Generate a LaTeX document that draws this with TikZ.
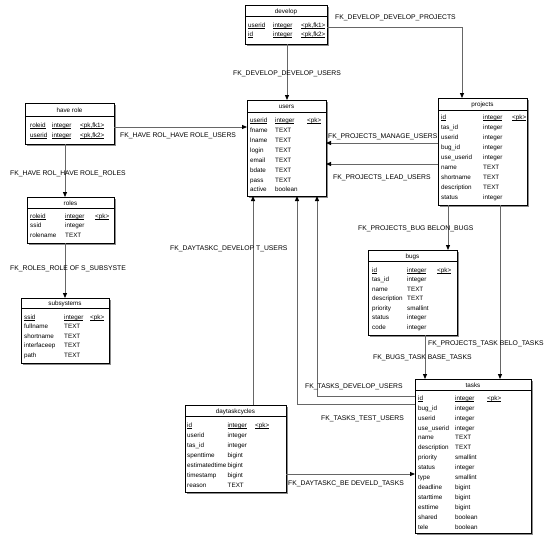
\documentclass[tikz,border=0pt]{standalone}
\usepackage{fontspec}
\setmainfont{Liberation Sans}
\usetikzlibrary{arrows.meta}
\tikzset{
 tbox/.style={draw=black, line width=0.6pt, fill=white, inner sep=0, outer sep=0, anchor=north west},
 shadowc/.style={fill=black!45},
 sepl/.style={draw=black, line width=0.5pt},
 ttitle/.style={inner sep=0, font=\fontsize{6.3}{7}\selectfont, text height=4.5pt, text depth=0pt},
 ftext/.style={ttitle, anchor=west},
 lbl/.style={inner sep=0, anchor=west, font=\fontsize{6.8}{7}\selectfont, text height=4.8pt, text depth=0pt},
 conn/.style={draw=black!60, line width=0.8pt, -{Triangle[length=5pt,width=4pt,color=black]}},
}
\newcommand\myul[1]{\setbox0\hbox{#1}\rlap{\rule[-1.1pt]{\wd0}{0.45pt}}\box0}
\newcommand\mktable[7]{%
  \fill[shadowc] (#2+1.5,#3+1.5) rectangle (#4+1.5,#5+1.5);
  \node[tbox, minimum width={(#4-#2)*1pt}, minimum height={(#5-#3)*1pt}] (#1) at (#2,#3) {};
  \draw[sepl] (#2,#6) -- (#4,#6);
  \node[ttitle] (#1-t) at ({(#2+#4)/2},{(#3+#6)/2+0.3}) {#7};
}
\newcommand\cols[3]{\def\cA{#1}\def\cB{#2}\def\cC{#3}}
\newcommand\fld[5]{%
  \node[ftext] (#1-#2a) at (\cA,#3) {#4};
  \node[ftext] (#1-#2b) at (\cB,#3) {#5};
}
\newcommand\kfld[6]{%
  \node[ftext] (#1-#2a) at (\cA,#3) {\myul{#4}};
  \node[ftext] (#1-#2b) at (\cB,#3) {\myul{#5}};
  \node[ftext] (#1-#2c) at (\cC,#3) {\myul{#6}};
}
\begin{document}
\begin{tikzpicture}[x=1pt,y=-1pt]
\fill[white] (0,0) rectangle (552,541);
\useasboundingbox (0,0) rectangle (552,541);

% develop
\mktable{develop}{245}{5}{327}{44}{16}{develop}
\cols{248}{273}{301}
\kfld{develop}{1}{25}{userid}{integer}{<pk,fk1>}
\kfld{develop}{2}{34.5}{id}{integer}{<pk,fk2>}

% have role
\mktable{haverole}{25}{103}{114}{144}{116}{have role}
\cols{30}{52}{80}
\kfld{haverole}{1}{125}{roleid}{integer}{<pk,fk1>}
\kfld{haverole}{2}{135}{userid}{integer}{<pk,fk2>}

% roles
\mktable{roles}{27}{197}{114}{243}{208}{roles}
\cols{30}{65}{95}
\kfld{roles}{1}{216}{roleid}{integer}{<pk>}
\fld{roles}{2}{225.5}{ssid}{integer}
\fld{roles}{3}{235}{rolename}{TEXT}

% subsystems
\mktable{subsystems}{21}{298}{109}{363}{308}{subsystems}
\cols{24}{64}{90}
\kfld{subsystems}{1}{317}{ssid}{integer}{<pk>}
\fld{subsystems}{2}{326.5}{fullname}{TEXT}
\fld{subsystems}{3}{336}{shortname}{TEXT}
\fld{subsystems}{4}{345.5}{interfaceep}{TEXT}
\fld{subsystems}{5}{355}{path}{TEXT}

% users
\mktable{users}{247}{100}{326}{196}{112}{users}
\cols{250}{275}{307}
\kfld{users}{1}{120}{userid}{integer}{<pk>}
\fld{users}{2}{130}{fname}{TEXT}
\fld{users}{3}{140}{lname}{TEXT}
\fld{users}{4}{150}{login}{TEXT}
\fld{users}{5}{160}{email}{TEXT}
\fld{users}{6}{170}{bdate}{TEXT}
\fld{users}{7}{180}{pass}{TEXT}
\fld{users}{8}{189}{active}{boolean}

% projects
\mktable{projects}{438}{98}{527}{205}{110}{projects}
\cols{441}{483}{512}
\kfld{projects}{1}{117}{id}{integer}{<pk>}
\fld{projects}{2}{127}{tas\_id}{integer}
\fld{projects}{3}{137}{userid}{integer}
\fld{projects}{4}{147}{bug\_id}{integer}
\fld{projects}{5}{157}{use\_userid}{integer}
\fld{projects}{6}{167}{name}{TEXT}
\fld{projects}{7}{177}{shortname}{TEXT}
\fld{projects}{8}{187}{description}{TEXT}
\fld{projects}{9}{197}{status}{integer}

% bugs
\mktable{bugs}{368}{250}{457}{335}{261}{bugs}
\cols{372}{407}{437}
\kfld{bugs}{1}{270}{id}{integer}{<pk>}
\fld{bugs}{2}{279.5}{tas\_id}{integer}
\fld{bugs}{3}{289}{name}{TEXT}
\fld{bugs}{4}{298.5}{description}{TEXT}
\fld{bugs}{5}{308}{priority}{smallint}
\fld{bugs}{6}{317.5}{status}{integer}
\fld{bugs}{7}{327}{code}{integer}

% daytaskcycles
\mktable{daytask}{185}{405}{286}{492}{416}{daytaskcycles}
\cols{187}{227.5}{255}
\kfld{daytask}{1}{425}{id}{integer}{<pk>}
\fld{daytask}{2}{435}{userid}{integer}
\fld{daytask}{3}{445}{tas\_id}{integer}
\fld{daytask}{4}{455}{spenttime}{bigint}
\fld{daytask}{5}{465}{estimatedtime}{bigint}
\fld{daytask}{6}{475}{timestamp}{bigint}
\fld{daytask}{7}{485}{reason}{TEXT}

% tasks
\mktable{tasks}{415}{379}{531}{533}{390}{tasks}
\cols{418}{455}{487}
\kfld{tasks}{1}{398}{id}{integer}{<pk>}
\fld{tasks}{2}{408}{bug\_id}{integer}
\fld{tasks}{3}{418}{userid}{integer}
\fld{tasks}{4}{428}{use\_userid}{integer}
\fld{tasks}{5}{437.5}{name}{TEXT}
\fld{tasks}{6}{447.5}{description}{TEXT}
\fld{tasks}{7}{457.5}{priority}{smallint}
\fld{tasks}{8}{467}{status}{integer}
\fld{tasks}{9}{477}{type}{smallint}
\fld{tasks}{10}{487}{deadline}{bigint}
\fld{tasks}{11}{497}{starttime}{bigint}
\fld{tasks}{12}{507}{esttime}{bigint}
\fld{tasks}{13}{517}{shared}{boolean}
\fld{tasks}{14}{527}{tele}{boolean}

% connector guide coordinates
\coordinate (c1) at (287,0);
\coordinate (c2) at (462,27);
\coordinate (c3) at (0,127);
\coordinate (c4) at (65,0);
\coordinate (c5) at (0,143);
\coordinate (c6) at (0,164);
\coordinate (c7) at (448,0);
\coordinate (c8) at (500,0);
\coordinate (c9) at (425,0);
\coordinate (c10) at (317,396);
\coordinate (c11) at (297,404);
\coordinate (c12) at (253,0);
\coordinate (c13) at (0,474);

% connectors
\draw[conn] (develop.south -| c1) -- (users.north -| c1);
\draw[conn] (develop.east |- c2) -| (projects.north -| c2);
\draw[conn] (haverole.east |- c3) -- (users.west |- c3);
\draw[conn] (haverole.south -| c4) -- (roles.north -| c4);
\draw[conn] (roles.south -| c4) -- (subsystems.north -| c4);
\draw[conn] (projects.west |- c5) -- (users.east |- c5);
\draw[conn] (projects.west |- c6) -- (users.east |- c6);
\draw[conn] (projects.south -| c7) -- (bugs.north -| c7);
\draw[conn] (projects.south -| c8) -- (tasks.north -| c8);
\draw[conn] (bugs.south -| c9) -- (tasks.north -| c9);
\draw[conn] (tasks.west |- c10) -| (users.south -| c10);
\draw[conn] (tasks.west |- c11) -| (users.south -| c11);
\draw[conn] (daytask.north -| c12) -- (users.south -| c12);
\draw[conn] (daytask.east |- c13) -- (tasks.west |- c13);

% labels
\node[lbl] (l1) at (233,73) {FK\_DEVELOP\_DEVELOP\_USERS};
\node[lbl] (l2) at (335,17) {FK\_DEVELOP\_DEVELOP\_PROJECTS};
\node[lbl] (l3) at (120,135) {FK\_HAVE ROL\_HAVE ROLE\_USERS};
\node[lbl] (l4) at (10,173) {FK\_HAVE ROL\_HAVE ROLE\_ROLES};
\node[lbl] (l5) at (10,268) {FK\_ROLES\_ROLE OF S\_SUBSYSTE};
\node[lbl] (l6) at (328,136) {FK\_PROJECTS\_MANAGE\_USERS};
\node[lbl] (l7) at (333,177) {FK\_PROJECTS\_LEAD\_USERS};
\node[lbl] (l8) at (358,228) {FK\_PROJECTS\_BUG BELON\_BUGS};
\node[lbl] (l9) at (428,343) {FK\_PROJECTS\_TASK BELO\_TASKS};
\node[lbl] (l10) at (373,357) {FK\_BUGS\_TASK BASE\_TASKS};
\node[lbl] (l11) at (305,386) {FK\_TASKS\_DEVELOP\_USERS};
\node[lbl] (l12) at (321,418) {FK\_TASKS\_TEST\_USERS};
\node[lbl] (l13) at (170,248) {FK\_DAYTASKC\_DEVELOP T\_USERS};
\node[lbl] (l14) at (288,483) {FK\_DAYTASKC\_BE DEVELD\_TASKS};
\end{tikzpicture}
\end{document}
